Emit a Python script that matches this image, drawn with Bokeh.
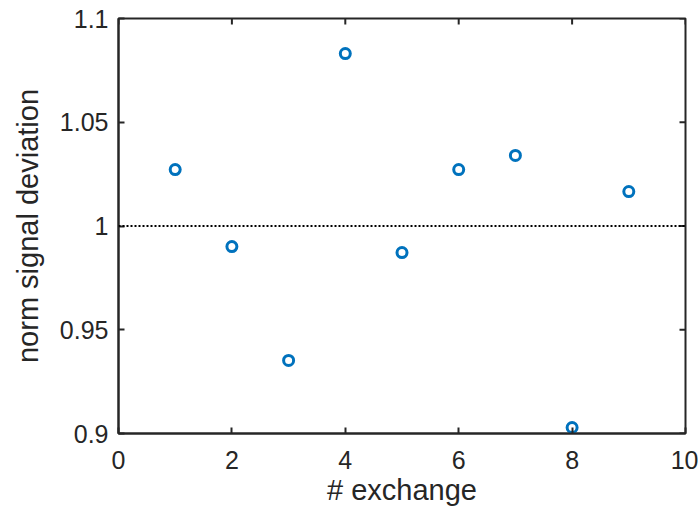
import math
from bokeh.plotting import figure
from bokeh.models import FixedTicker, Span, Range1d
from bokeh.embed import file_html
from bokeh.resources import INLINE

# Normalised signal deviation for each exchange
exchange = [1, 2, 3, 4, 5, 6, 7, 8, 9]
deviation = [1.0272, 0.9901, 0.9352, 1.0831, 0.9872, 1.0272, 1.0340, 0.9029, 1.0166]
reference_level = 1.0

x_limits = (0, 10)
y_limits = (0.9, 1.1)
x_ticks = [0, 2, 4, 6, 8, 10]
x_tick_labels = ["0", "2", "4", "6", "8", "10"]
y_ticks = [0.9, 0.95, 1.0, 1.05, 1.1]
y_tick_labels = ["0.9", "0.95", "1", "1.05", "1.1"]
x_title = "# exchange"
y_title = "norm signal deviation"

TEXT = "#262626"
FONT = "Liberation Sans"

p = figure(width=698, height=512, output_backend="svg", toolbar_location=None,
           x_range=Range1d(*x_limits), y_range=Range1d(*y_limits),
           x_axis_label=x_title, y_axis_label=y_title,
           min_border_left=118, min_border_right=13, min_border_top=18,
           min_border_bottom=79)
p.grid.visible = False
p.outline_line_color = TEXT
p.outline_line_width = 2
p.background_fill_color = "white"
p.border_fill_color = "white"

p.xaxis.ticker = FixedTicker(ticks=x_ticks)
p.xaxis.major_label_overrides = dict(zip(x_ticks, x_tick_labels))
p.yaxis.ticker = FixedTicker(ticks=y_ticks)
p.yaxis.major_label_overrides = dict(zip(y_ticks, y_tick_labels))

for ax in p.axis:
    ax.axis_line_color = TEXT
    ax.axis_line_width = 2
    ax.major_tick_line_color = TEXT
    ax.major_tick_line_width = 2
    ax.major_tick_in = 6
    ax.major_tick_out = 0
    ax.minor_tick_line_color = None
    ax.major_label_text_font = FONT
    ax.major_label_text_font_size = "25px"
    ax.major_label_text_color = TEXT
    ax.axis_label_text_font = FONT
    ax.axis_label_text_font_size = "29px"
    ax.axis_label_text_font_style = "normal"
    ax.axis_label_text_color = TEXT

p.xaxis.major_label_standoff = 17
p.xaxis.axis_label_standoff = 2
p.yaxis.major_label_standoff = 10
p.yaxis.axis_label_standoff = 13

# inward ticks on the top and right edges of the box
p.scatter(x_ticks, [y_limits[1]] * len(x_ticks), marker="dash", angle=math.pi / 2,
          size=12, line_color=TEXT, line_width=2)
p.scatter([x_limits[1]] * len(y_ticks), y_ticks, marker="dash",
          size=12, line_color=TEXT, line_width=2)

p.add_layout(Span(location=reference_level, dimension="width", line_color="black",
                  line_width=2, line_dash="2 2"))

p.scatter(exchange, deviation, marker="circle", size=10, fill_color=None,
          line_color="#0072BD", line_width=3)

open("out.html", "w").write(file_html(p, INLINE))
